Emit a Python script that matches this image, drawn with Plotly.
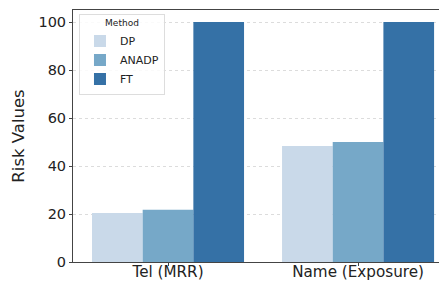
import plotly.graph_objects as go

categories = ["Tel (MRR)", "Name (Exposure)"]
methods = ["DP", "ANADP", "FT"]
dp_values = [20.4, 48.3]
anadp_values = [21.8, 50.0]
ft_values = [100, 100]
colors = ["#c9d9e9", "#76a8c8", "#3571a6"]

series = [dp_values, anadp_values, ft_values]

fig = go.Figure()
for name, vals, col in zip(methods, series, colors):
    fig.add_trace(go.Bar(x=categories, y=vals, name=name, marker_color=col,
                         marker_line_width=0))

# page body adds an 8px offset, so the figure is sized to the visible area
fig.update_layout(
    width=439, height=274,
    margin=dict(l=65, r=0, t=2, b=20, autoexpand=False),
    barmode="group", bargap=0.2, bargroupgap=0,
    plot_bgcolor="white", paper_bgcolor="white",
    font=dict(family="DejaVu Sans", color="#222"),
    legend=dict(title=dict(text="Method", font=dict(size=9), side="top center"),
                x=0.016, y=0.985, xanchor="left", yanchor="top",
                bgcolor="rgba(255,255,255,0.85)", bordercolor="#ddd", borderwidth=1,
                font=dict(size=11), itemwidth=30, tracegroupgap=0),
    showlegend=True,
)
fig.update_xaxes(range=[-0.5, 1.468], showline=True, linecolor="#444", linewidth=1,
                 mirror=True, ticks="outside", ticklen=3, tickcolor="#444",
                 tickfont=dict(size=15.2), showgrid=False, automargin=False,
                 ticklabelstandoff=-7)
fig.update_yaxes(range=[0, 105], tickvals=[0, 20, 40, 60, 80, 100],
                 showline=True, linecolor="#444", linewidth=1, mirror=False,
                 ticks="outside", ticklen=3, tickcolor="#444",
                 tickfont=dict(size=14.5), showgrid=True, gridcolor="#dcdcdc",
                 griddash="dot", gridwidth=0.8, zeroline=False, automargin=False,
                 title=dict(text="Risk Values", font=dict(size=16.5), standoff=9))

fig.write_html("out.html")
